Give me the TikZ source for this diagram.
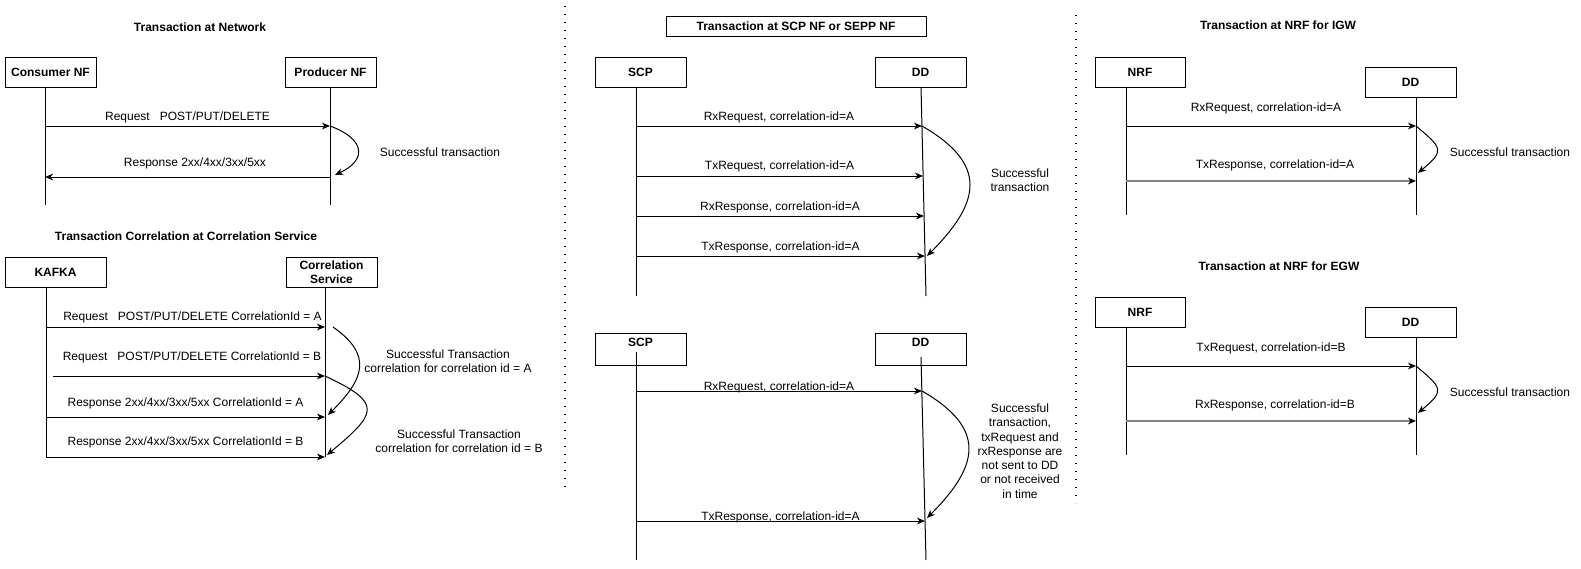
\documentclass[tikz,border=0pt]{standalone}
\usepackage{fontspec}
\setmainfont{Liberation Sans}
\usetikzlibrary{arrows.meta}
\begin{document}
\begin{tikzpicture}[>={Stealth[length=6pt,width=5pt,inset=1.8pt]},x=0.75pt,y=-0.75pt,line width=0.75pt,
	txt/.style={font=\fontsize{9}{10.7}\selectfont,inner sep=0pt,align=center},
	ttl/.style={txt,font=\fontsize{9}{10.7}\selectfont\bfseries},
	actor/.style={draw,ttl,minimum width=68.25pt,minimum height=22.5pt},
	topactor/.style={actor,minimum height=24pt,text height=6.5pt,text depth=10.6pt},
	grayline/.style={draw=black!50,line width=1.2pt,-{Stealth[length=6pt,width=5pt,inset=1.8pt,color=black]}},
	sep/.style={draw,line width=1pt,dash pattern=on 1pt off 5pt}]
	\useasboundingbox (0,0) rectangle (1581,568);
	\draw[sep] (565,6) -- (565,493);
	\draw[sep] (1076,15) -- (1076,503);
	
	\node[ttl] (t1) at (200,27) {Transaction at Network};
	\node[actor] (cons) at (50.5,72) {Consumer NF};
	\node[actor] (prod) at (330.5,72) {Producer NF};
	\coordinate (cons0) at (45,87); \coordinate (cons9) at (45,205);
	\coordinate (prod0) at (330,87); \coordinate (prod9) at (330,205);
	\coordinate (c1) at (45,126); \coordinate (p1) at (330,126);
	\coordinate (c2) at (45,177); \coordinate (p2) at (330,177);
	\coordinate (p2a) at (335,175);
	\draw (cons0) -- (cons9);
	\draw (prod0) -- (prod9);
	\draw[->] (c1) -- node[txt,yshift=6.75pt]{Request~~~POST/PUT/DELETE} (p1);
	\draw[->] (p2) -- node[txt,yshift=10.5pt,xshift=5.6pt]{Response 2xx/4xx/3xx/5xx} (c2);
	\draw[->] (p1) to[out=-20,in=25,looseness=1.9] (p2a);
	\node[txt] (ok1) at (440,152) {Successful transaction};
	
	\node[ttl] (t2) at (186,236) {Transaction Correlation at Correlation Service};
	\node[actor,minimum width=75.75pt] (kafka) at (55.5,272) {KAFKA};
	\node[actor] (corr) at (331.5,272) {Correlation\\Service};
	\coordinate (k0) at (46,287); \coordinate (k9) at (46,457);
	\coordinate (r0) at (325,287); \coordinate (r9) at (325,457);
	\coordinate (k1) at (46,327); \coordinate (r1) at (325,327);
	\coordinate (k2) at (53,376); \coordinate (r2) at (325,376);
	\coordinate (k3) at (46,417); \coordinate (r3) at (325,417);
	\coordinate (ra0) at (333,327); \coordinate (ra1) at (328,415);
	\coordinate (rb1) at (327,455);
	\draw (k0) -- (k9);
	\draw (r0) -- (r9);
	\draw[->] (k1) -- node[txt,yshift=7.5pt,xshift=5.25pt]{Request~~~POST/PUT/DELETE CorrelationId = A} (r1);
	\draw[->] (k2) -- node[txt,yshift=14.25pt,xshift=2.25pt]{Request~~~POST/PUT/DELETE CorrelationId = B} (r2);
	\draw[->] (k3) -- node[txt,yshift=10.5pt]{Response 2xx/4xx/3xx/5xx CorrelationId = A} (r3);
	\draw[->] (k9) -- node[txt,yshift=11.25pt]{Response 2xx/4xx/3xx/5xx CorrelationId = B} (r9);
	\draw[->] (ra0) to[out=-35,in=45,looseness=1.45] (ra1);
	\draw[->] (r2) to[out=-25,in=40,looseness=2.1] (rb1);
	\node[txt] (ok2) at (448,361) {Successful Transaction\\correlation for correlation id = A};
	\node[txt] (ok3) at (459,441) {Successful Transaction\\correlation for correlation id = B};
	
	\node[draw,ttl,minimum width=195pt,minimum height=15pt] (t3) at (796,26) {Transaction at SCP NF or SEPP NF};
	\node[actor] (scp1) at (640.5,72) {SCP};
	\node[actor] (dd1) at (920.5,72) {DD};
	\coordinate (s0) at (636,87); \coordinate (s9) at (636,296);
	\coordinate (d0) at (921,87); \coordinate (d9) at (926,296);
	\coordinate (s1) at (636,126); \coordinate (d1) at (922,126);
	\coordinate (s2) at (636,176); \coordinate (d2) at (923,176);
	\coordinate (s3) at (636,216); \coordinate (d3) at (924,216);
	\coordinate (s4) at (636,256); \coordinate (d4) at (925,256);
	\coordinate (d4a) at (927,256);
	\draw (s0) -- (s9);
	\draw (d0) -- (d9);
	\draw[->] (s1) -- node[txt,yshift=6.75pt]{RxRequest, correlation-id=A} (d1);
	\draw[->] (s2) -- node[txt,yshift=7.5pt]{TxRequest, correlation-id=A} (d2);
	\draw[->] (s3) -- node[txt,yshift=6.75pt]{RxResponse, correlation-id=A} (d3);
	\draw[->] (s4) -- node[txt,yshift=6.75pt]{TxResponse, correlation-id=A} (d4);
	\draw[->] (d1) to[out=-30,in=45,looseness=1.5] (d4a);
	\node[txt] (ok4) at (1020,180.5) {Successful\\transaction};
	
	\node[topactor] (scp2) at (640.5,349.5) {SCP};
	\node[topactor] (dd2) at (920.5,349.5) {DD};
	\coordinate (u0) at (636,352); \coordinate (u9) at (636,560);
	\coordinate (e0) at (921,357); \coordinate (e9) at (926,560);
	\coordinate (u1) at (636,391); \coordinate (e1) at (922,391);
	\coordinate (u2) at (636,521); \coordinate (e2) at (925,521);
	\coordinate (e2a) at (927,518);
	\draw (u0) -- (u9);
	\draw (e0) -- (e9);
	\draw[->] (u1) -- node[txt,yshift=3pt]{RxRequest, correlation-id=A} (e1);
	\draw[->] (u2) -- node[txt,yshift=3pt]{TxResponse, correlation-id=A} (e2);
	\draw[->] (e1) to[out=-30,in=45,looseness=1.5] (e2a);
	\node[txt] (ok5) at (1020,451) {Successful\\transaction,\\txRequest and\\rxResponse are\\not sent to DD\\or not received\\in time};
	
	\node[ttl] (t4) at (1278,25) {Transaction at NRF for IGW};
	\node[actor,minimum width=67.5pt] (nrf1) at (1140,72) {NRF};
	\node[actor] (dd3) at (1410.5,82) {DD};
	\coordinate (n0) at (1126,87); \coordinate (n9) at (1126,215);
	\coordinate (g0) at (1416,97); \coordinate (g9) at (1416,215);
	\coordinate (n1) at (1126,126); \coordinate (g1) at (1416,126);
	\coordinate (n2) at (1126,181); \coordinate (g2) at (1416,181);
	\coordinate (g2a) at (1418,173);
	\draw (n0) -- (n9);
	\draw (g0) -- (g9);
	\draw[->] (n1) -- node[txt,yshift=13.5pt,xshift=-3.75pt]{RxRequest, correlation-id=A} (g1);
	\draw[grayline] (n2) -- node[txt,yshift=12pt,xshift=3pt,text=black]{TxResponse, correlation-id=A} (g2);
	\draw[->] (g1) to[out=-40,in=40,looseness=1.9] (g2a);
	\node[txt] (ok6) at (1510,152) {Successful transaction};
	
	\node[ttl] (t5) at (1279,266) {Transaction at NRF for EGW};
	\node[actor,minimum width=67.5pt] (nrf2) at (1140,312) {NRF};
	\node[actor] (dd4) at (1410.5,322) {DD};
	\coordinate (m0) at (1126,327); \coordinate (m9) at (1126,455);
	\coordinate (h0) at (1416,337); \coordinate (h9) at (1416,455);
	\coordinate (m1) at (1126,366); \coordinate (h1) at (1416,366);
	\coordinate (m2) at (1126,421); \coordinate (h2) at (1416,421);
	\coordinate (h2a) at (1418,413);
	\draw (m0) -- (m9);
	\draw (h0) -- (h9);
	\draw[->] (m1) -- node[txt,yshift=13.5pt]{TxRequest, correlation-id=B} (h1);
	\draw[grayline] (m2) -- node[txt,yshift=12pt,xshift=3pt,text=black]{RxResponse, correlation-id=B} (h2);
	\draw[->] (h1) to[out=-40,in=40,looseness=1.9] (h2a);
	\node[txt] (ok7) at (1510,392) {Successful transaction};
\end{tikzpicture}
\end{document}
